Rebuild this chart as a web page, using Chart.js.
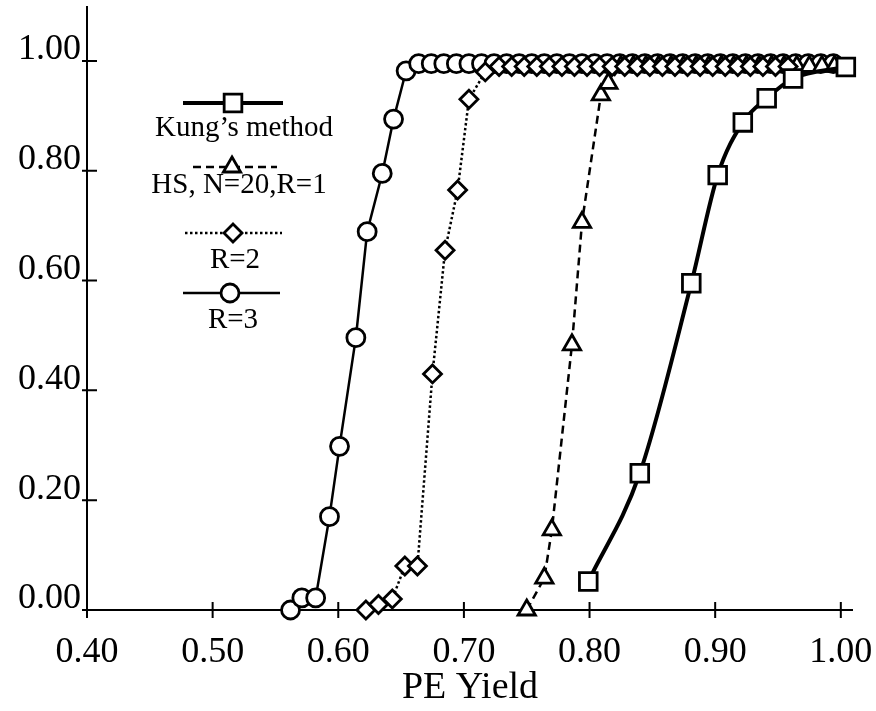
<!DOCTYPE html>
<html>
<head>
<meta charset="utf-8">
<title>PE Yield</title>
<script src="https://cdn.jsdelivr.net/npm/chart.js@4.4.1/dist/chart.umd.min.js"></script>
<style>
    html, body { margin: 0; padding: 0; background: #fff; }
    #wrap { width: 876px; height: 711px; }
</style>
</head>
<body>
<div id="wrap"><canvas id="chart" width="876" height="711"></canvas></div>
<script>
// Values
const kungX = [0.799, 0.840, 0.881, 0.902, 0.922, 0.941, 0.962, 1.004];
const kungY = [0.052, 0.249, 0.595, 0.792, 0.888, 0.932, 0.968, 0.989];

const hsX = [0.750, 0.764, 0.770, 0.786, 0.794, 0.809, 0.815,
             0.825, 0.835, 0.845, 0.855, 0.865, 0.875, 0.885, 0.895, 0.905,
             0.915, 0.925, 0.935, 0.945, 0.955, 0.965, 0.975, 0.985, 0.995];
const hsY = [0.000, 0.058, 0.146, 0.483, 0.706, 0.938, 0.959,
             0.99, 0.99, 0.99, 0.99, 0.99, 0.99, 0.99, 0.99, 0.99,
             0.99, 0.99, 0.99, 0.99, 0.99, 0.99, 0.99, 0.99, 0.99];

const r2X = [0.622, 0.632, 0.643, 0.653, 0.663, 0.675, 0.685, 0.695, 0.704, 0.717,
             0.728, 0.738, 0.748, 0.758, 0.768, 0.778, 0.788, 0.798, 0.808, 0.818,
             0.828, 0.838, 0.848, 0.858, 0.868, 0.878, 0.888, 0.898, 0.908, 0.918,
             0.928, 0.938, 0.948, 0.958];
const r2Y = [0.000, 0.010, 0.020, 0.080, 0.080, 0.430, 0.655, 0.765, 0.930, 0.980,
             0.99, 0.99, 0.99, 0.99, 0.99, 0.99, 0.99, 0.99, 0.99, 0.99,
             0.99, 0.99, 0.99, 0.99, 0.99, 0.99, 0.99, 0.99, 0.99, 0.99,
             0.99, 0.99, 0.99, 0.99];

const r3X = [0.562, 0.571, 0.582, 0.593, 0.601, 0.614, 0.623, 0.635, 0.644, 0.654,
             0.664, 0.674, 0.684, 0.694, 0.704, 0.714, 0.724, 0.734, 0.744, 0.754,
             0.764, 0.774, 0.784, 0.794, 0.804, 0.814, 0.824, 0.834, 0.844, 0.854,
             0.864, 0.874, 0.884, 0.894, 0.904, 0.914, 0.924, 0.934, 0.944, 0.954,
             0.964, 0.974, 0.984, 0.994];
const r3Y = [0.000, 0.022, 0.022, 0.170, 0.298, 0.496, 0.689, 0.795, 0.894, 0.982,
             0.995, 0.995, 0.995, 0.995, 0.995, 0.995, 0.995, 0.995, 0.995, 0.995,
             0.995, 0.995, 0.995, 0.995, 0.995, 0.995, 0.995, 0.995, 0.995, 0.995,
             0.995, 0.995, 0.995, 0.995, 0.995, 0.995, 0.995, 0.995, 0.995, 0.995,
             0.995, 0.995, 0.995, 0.995];

const seriesLabels = ["Kung\u2019s method", "HS, N=20,R=1", "R=2", "R=3"];
const xTicks = [0.40, 0.50, 0.60, 0.70, 0.80, 0.90, 1.00];
const yTicks = [0.00, 0.20, 0.40, 0.60, 0.80, 1.00];
const xTitle = "PE Yield";

const FONT = "'Liberation Serif', 'Times New Roman', serif";

function toPoints(xs, ys) {
    return xs.map((x, i) => ({ x: x, y: ys[i] }));
}

// Legend slots inside the plot (line sample over a centred caption)
const legendSlots = [
    { lineY: 103, x1: 183, x2: 283, markX: 233, textX: 244, textY: 136 },
    { lineY: 167, x1: 193, x2: 277, markX: 232, textX: 239, textY: 193 },
    { lineY: 233, x1: 185, x2: 282, markX: 233, textX: 235, textY: 268 },
    { lineY: 293, x1: 183, x2: 280, markX: 230, textX: 233, textY: 328 }
];

// Scales should not reserve room for half labels at their ends
function noEdgePadding(scale) {
    scale.paddingLeft = 0;
    scale.paddingRight = 0;
    scale.paddingTop = 0;
    scale.paddingBottom = 0;
}

// Axis lines with tick marks that cross them
const crossAxes = {
    id: 'crossAxes',
    beforeDatasetsDraw(chart) {
        const { ctx, chartArea } = chart;
        const xs = chart.scales.x, ys = chart.scales.y;
        ctx.save();
        ctx.strokeStyle = '#000';
        ctx.lineWidth = 2;
        ctx.beginPath();
        ctx.moveTo(chartArea.left, chartArea.top);
        ctx.lineTo(chartArea.left, chartArea.bottom);
        ctx.moveTo(chartArea.left, chartArea.bottom);
        ctx.lineTo(chartArea.right, chartArea.bottom);
        xs.ticks.forEach(t => {
            const px = xs.getPixelForValue(t.value);
            ctx.moveTo(px, chartArea.bottom - 8);
            ctx.lineTo(px, chartArea.bottom + 8);
        });
        ys.ticks.forEach(t => {
            const py = ys.getPixelForValue(t.value);
            ctx.moveTo(chartArea.left - 5, py);
            ctx.lineTo(chartArea.left + 10, py);
        });
        ctx.stroke();
        ctx.restore();
    }
};

// Legend drawn in the same style as the paper figure
const paperLegend = {
    id: 'paperLegend',
    afterDraw(chart) {
        const ctx = chart.ctx;
        chart.data.datasets.forEach((ds, i) => {
            const s = legendSlots[i];
            ctx.save();
            ctx.strokeStyle = ds.borderColor;
            ctx.lineWidth = ds.borderWidth;
            ctx.setLineDash(ds.borderDash || []);
            ctx.beginPath();
            ctx.moveTo(s.x1, s.lineY);
            ctx.lineTo(s.x2, s.lineY);
            ctx.stroke();
            ctx.setLineDash([]);
            ctx.fillStyle = ds.pointBackgroundColor;
            ctx.strokeStyle = ds.pointBorderColor;
            ctx.lineWidth = ds.pointBorderWidth;
            Chart.helpers.drawPoint(ctx, {
                pointStyle: ds.pointStyle,
                radius: ds.pointRadius,
                borderWidth: ds.pointBorderWidth,
                rotation: 0
            }, s.markX, s.lineY);
            ctx.fillStyle = '#000';
            ctx.font = "29px " + FONT;
            ctx.textAlign = 'center';
            ctx.textBaseline = 'alphabetic';
            ctx.fillText(ds.label, s.textX, s.textY);
            ctx.restore();
        });
    }
};

const ctx = document.getElementById('chart').getContext('2d');
const chart = new Chart(ctx, {
    type: 'line',
    data: {
        datasets: [{
            label: seriesLabels[0],
            data: toPoints(kungX, kungY),
            borderColor: '#000',
            borderWidth: 4,
            cubicInterpolationMode: 'monotone',
            pointStyle: 'rect',
            pointRadius: 12.5,
            pointBorderWidth: 2.8,
            pointBorderColor: '#000',
            pointBackgroundColor: '#fff',
            order: 0,
            clip: false
        }, {
            label: seriesLabels[1],
            data: toPoints(hsX, hsY),
            borderColor: '#000',
            borderWidth: 2.5,
            borderDash: [8, 5],
            pointStyle: 'triangle',
            pointRadius: 10,
            pointBorderWidth: 2.8,
            pointBorderColor: '#000',
            pointBackgroundColor: '#fff',
            order: 2,
            clip: false
        }, {
            label: seriesLabels[2],
            data: toPoints(r2X, r2Y),
            borderColor: '#000',
            borderWidth: 2.5,
            borderDash: [2.5, 2.5],
            pointStyle: 'rectRot',
            pointRadius: 9,
            pointBorderWidth: 2.8,
            pointBorderColor: '#000',
            pointBackgroundColor: '#fff',
            order: 1,
            clip: false
        }, {
            label: seriesLabels[3],
            data: toPoints(r3X, r3Y),
            borderColor: '#000',
            borderWidth: 2.5,
            pointStyle: 'circle',
            pointRadius: 9,
            pointBorderWidth: 2.8,
            pointBorderColor: '#000',
            pointBackgroundColor: '#fff',
            order: 3,
            clip: false
        }]
    },
    options: {
        responsive: false,
        animation: false,
        devicePixelRatio: 1,
        layout: { autoPadding: false, padding: { left: 0, right: 23, top: 6, bottom: 0 } },
        plugins: {
            legend: { display: false },
            tooltip: { enabled: false }
        },
        scales: {
            x: {
                type: 'linear',
                min: 0.40,
                max: 1.0097,
                afterBuildTicks: (scale) => { scale.ticks = xTicks.map(v => ({ value: v })); },
                afterFit: (scale) => { scale.height = 101; noEdgePadding(scale); },
                grid: { display: false, drawTicks: false },
                border: { display: false },
                ticks: {
                    autoSkip: false,
                    maxRotation: 0,
                    padding: 21,
                    color: '#000',
                    font: { family: FONT, size: 36 },
                    callback: (v) => Number(v).toFixed(2)
                },
                title: {
                    display: true,
                    text: xTitle,
                    color: '#000',
                    font: { family: FONT, size: 38, lineHeight: 1.2 },
                    padding: { top: 0, bottom: 0 }
                }
            },
            y: {
                type: 'linear',
                min: 0,
                max: 1.10,
                afterBuildTicks: (scale) => { scale.ticks = yTicks.map(v => ({ value: v })); },
                afterFit: (scale) => { scale.width = 87; noEdgePadding(scale); },
                grid: { display: false, drawTicks: false },
                border: { display: false },
                ticks: {
                    padding: 6,
                    labelOffset: -11,
                    color: '#000',
                    font: { family: FONT, size: 36 },
                    callback: (v) => Number(v).toFixed(2)
                }
            }
        }
    },
    plugins: [crossAxes, paperLegend]
});
</script>
</body>
</html>
